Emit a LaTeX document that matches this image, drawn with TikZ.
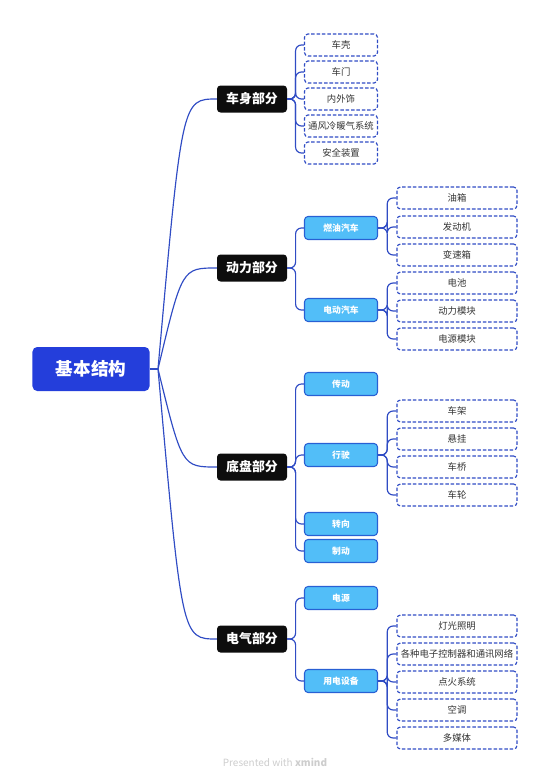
\documentclass[tikz,border=0pt]{standalone}
\usepackage{fontspec}
\setmainfont{Noto Sans CJK SC}
\usepackage{xcolor}
\usetikzlibrary{calc}

\definecolor{rootblue}{RGB}{36,62,219}
\definecolor{linkblue}{RGB}{48,76,196}
\definecolor{subfill}{RGB}{82,190,248}
\definecolor{subedge}{RGB}{40,96,212}
\definecolor{footgray}{RGB}{205,205,205}

\begin{document}
\begin{tikzpicture}[x=0.03cm, y=-0.03cm,
    root/.style={fill=rootblue, text=white, rounded corners=4pt, minimum width=3.51cm, minimum height=1.32cm, font=\fontsize{15}{15}\selectfont\bfseries},
    part/.style={fill=black!95, text=white, rounded corners=3pt, minimum width=2.1cm, minimum height=0.81cm, font=\fontsize{11}{11}\selectfont\bfseries},
    group/.style={draw=subedge, line width=0.9pt, fill=subfill, text=white, rounded corners=3pt, minimum width=2.19cm, minimum height=0.69cm, font=\fontsize{7.5}{7.5}\selectfont\bfseries},
    leaf/.style={draw=linkblue, dash pattern=on 3pt off 1.6pt, line width=1pt, rounded corners=3pt, minimum width=2.19cm, minimum height=0.66cm, inner sep=1pt, text=black!80, font=\fontsize{8}{8}\selectfont},
    wideleaf/.style={leaf, minimum width=3.6cm},
    link/.style={draw=linkblue, line width=1pt},
    elbow/.style={link, rounded corners=5pt}
]
\useasboundingbox (0,0) rectangle (551,784);

% root and main parts
\node[root] (root) at (91, 369) {基本结构};
\coordinate (rb) at (158, 369);
\node[part] (body) at (252, 99) {车身部分};
\node[part] (power) at (252, 268) {动力部分};
\node[part] (chassis) at (252, 467) {底盘部分};
\node[part] (elec) at (252, 639) {电气部分};

% body
\node[leaf] (shell) at (341, 45) {车壳};
\node[leaf] (door) at (341, 72) {车门};
\node[leaf] (trim) at (341, 99) {内外饰};
\node[leaf] (hvac) at (341, 126) {通风冷暖气系统};
\node[leaf] (safety) at (341, 153) {安全装置};

% power
\node[group] (fuel) at (341, 228) {燃油汽车};
\node[group] (ev) at (341, 310) {电动汽车};
\node[wideleaf] (tank) at (457, 198) {油箱};
\node[wideleaf] (engine) at (457, 227) {发动机};
\node[wideleaf] (gearbox) at (457, 255) {变速箱};
\node[wideleaf] (battery) at (457, 283) {电池};
\node[wideleaf] (motor) at (457, 311) {动力模块};
\node[wideleaf] (supply) at (457, 339) {电源模块};

% chassis
\node[group] (drive) at (341, 384) {传动};
\node[group] (run) at (341, 455) {行驶};
\node[group] (steer) at (341, 524) {转向};
\node[group] (brake) at (341, 551) {制动};
\node[wideleaf] (frame) at (457, 411) {车架};
\node[wideleaf] (susp) at (457, 439) {悬挂};
\node[wideleaf] (axle) at (457, 467) {车桥};
\node[wideleaf] (wheel) at (457, 495) {车轮};

% electrical
\node[group] (source) at (341, 598) {电源};
\node[group] (loads) at (341, 681) {用电设备};
\node[wideleaf] (light) at (457, 626) {灯光照明};
\node[wideleaf] (ecu) at (457, 654) {各种电子控制器和通讯网络};
\node[wideleaf] (ignit) at (457, 682) {点火系统};
\node[wideleaf] (ac) at (457, 710) {空调};
\node[wideleaf] (media) at (457, 738) {多媒体};

% connectors
\draw[link] (root.east) -- (rb);
\foreach \p in {body, power, chassis, elec}
  \draw[link] (rb) .. controls ($(rb|-\p.west)+(24,0)$) and ($(rb|-\p.west)+(24,0)$) .. (\p.west);

\foreach \p/\c in {body/shell, body/door, body/trim, body/hvac, body/safety,
    power/fuel, power/ev, fuel/tank, fuel/engine, fuel/gearbox, ev/battery, ev/motor, ev/supply,
    chassis/drive, chassis/run, chassis/steer, chassis/brake, run/frame, run/susp, run/axle, run/wheel,
    elec/source, elec/loads, loads/light, loads/ecu, loads/ignit, loads/ac, loads/media}
  \draw[elbow] (\p.east) -- ($(\p.east)!0.5!(\p.east-|\c.west)$) |- (\c.west);

\node[text=footgray, font=\fontsize{8.5}{8.5}\selectfont] (foot) at (275, 762) {Presented with \textbf{xmind}};
\end{tikzpicture}
\end{document}
